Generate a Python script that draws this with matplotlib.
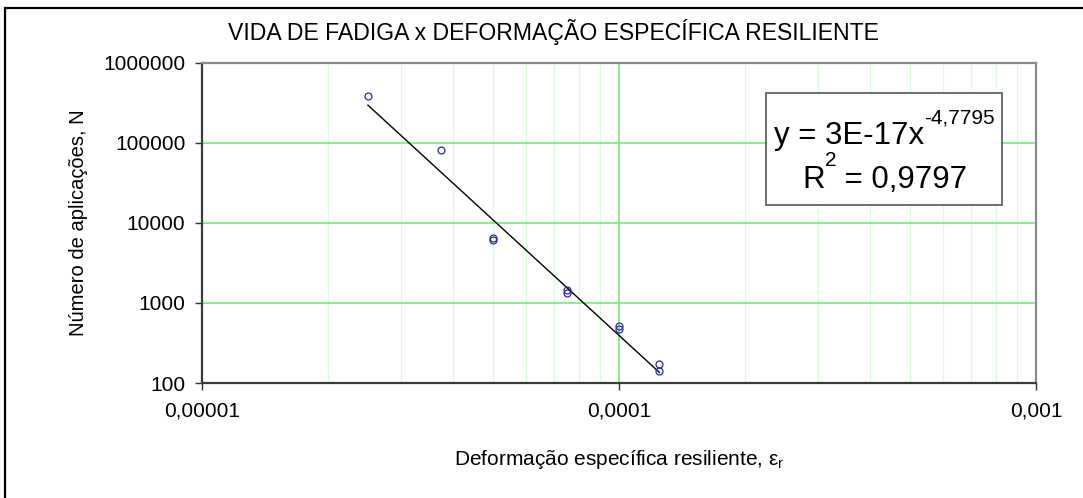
import matplotlib.pyplot as plt
from matplotlib.patches import Rectangle
from matplotlib.ticker import FixedLocator, FuncFormatter, NullLocator
import numpy as np

plt.rcParams["font.family"] = ["Liberation Sans", "DejaVu Sans"]

# ensaio de fadiga: deformação específica resiliente x número de aplicações
strain = [2.5e-5, 3.75e-5, 5e-5, 5e-5, 7.5e-5, 7.5e-5, 1e-4, 1e-4, 1.25e-4, 1.25e-4]
cycles = [385000, 81000, 6500, 6100, 1450, 1350, 520, 470, 175, 140]

# linha de tendência potencial (Excel)
coef_a = 3e-17
coef_b = -4.7795
r2 = 0.9797

x_ticks = [1e-5, 1e-4, 1e-3]
x_labels = ["0,00001", "0,0001", "0,001"]
y_ticks = [100, 1000, 10000, 100000, 1000000]
y_labels = ["100", "1000", "10000", "100000", "1000000"]

major_green = "#7be87b"
minor_green = "#dcfadc"

W, H = 1083, 498


def px(x, y):
    # pixel (a partir do topo) -> fração da figura
    return x / W, 1 - y / H


def put_after(fig, prev, text, y_base, size):
    # escreve text logo à direita do texto anterior, na linha de base dada
    fig.canvas.draw()
    x_end = prev.get_window_extent().x1
    return fig.text(x_end / W, 1 - y_base / H, text, ha="left", va="baseline",
                    fontsize=size, zorder=6)


def main() -> None:
    fig = plt.figure(figsize=(W / 100, H / 100), dpi=100)
    ax = fig.add_axes([202 / W, 115 / H, 834 / W, 320 / H])

    ax.set_xscale("log")
    ax.set_yscale("log")
    ax.set_xlim(1e-5, 1e-3)
    ax.set_ylim(100, 1e6)

    # grade: verticais menores e maiores, horizontais maiores
    minor_x = [m * 10.0 ** e for e in (-5, -4) for m in range(2, 10)]
    for xv in minor_x:
        ax.axvline(xv, color=minor_green, lw=1.0, zorder=0)
    for xv in x_ticks:
        ax.axvline(xv, color=major_green, lw=1.2, zorder=0)
    for yv in y_ticks:
        ax.axhline(yv, color=major_green, lw=1.2, zorder=0)

    xs = np.geomspace(min(strain), max(strain), 200)
    ax.plot(xs, coef_a * xs ** coef_b, color="black", lw=1.0, zorder=2)

    ax.plot(strain, cycles, linestyle="none", marker="o", markersize=5,
            markerfacecolor="none", markeredgecolor="#2a2aa8",
            markeredgewidth=0.9, zorder=3)

    ax.xaxis.set_major_locator(FixedLocator(x_ticks))
    ax.xaxis.set_major_formatter(FuncFormatter(lambda v, p: x_labels[p] if p is not None and p < len(x_labels) else ""))
    ax.xaxis.set_minor_locator(NullLocator())
    ax.yaxis.set_major_locator(FixedLocator(y_ticks))
    ax.yaxis.set_major_formatter(FuncFormatter(lambda v, p: y_labels[p] if p is not None and p < len(y_labels) else ""))
    ax.yaxis.set_minor_locator(NullLocator())

    ax.tick_params(axis="both", which="major", direction="out", length=5,
                   width=1.0, color="#333333", labelsize=15)
    ax.tick_params(axis="x", pad=8)
    ax.tick_params(axis="y", pad=7)

    for side in ("left", "bottom"):
        ax.spines[side].set_color("#3a3a3a")
        ax.spines[side].set_linewidth(1.6)
    for side in ("top", "right"):
        ax.spines[side].set_color("#8a8a8a")
        ax.spines[side].set_linewidth(1.6)

    ax.set_xlabel(r"Deformação específica resiliente, $\mathregular{\varepsilon_r}$",
                  fontsize=15, labelpad=20)
    ax.set_ylabel("Número de aplicações, N", fontsize=14.5, labelpad=11)

    fig.text(*px(553, 32), "VIDA DE FADIGA x DEFORMAÇÃO ESPECÍFICA RESILIENTE",
             ha="center", va="center", fontsize=16.6)

    # caixa com a equação da linha de tendência
    fig.patches.append(Rectangle(px(766, 205), 236 / W, 112 / H,
                                 transform=fig.transFigure, facecolor="white",
                                 edgecolor="#555555", linewidth=1.2, zorder=5))
    t1 = fig.text(*px(774, 144), "y = %.0Ex" % coef_a, ha="left",
                  va="baseline", fontsize=22.5, zorder=6)
    put_after(fig, t1, ("%.4f" % coef_b).replace(".", ","), 123, 15)
    t2 = fig.text(*px(802, 188), "R", ha="left", va="baseline",
                  fontsize=22.5, zorder=6)
    t3 = put_after(fig, t2, "2", 166, 15)
    put_after(fig, t3, " = %s" % str(r2).replace(".", ","), 188, 22.5)

    # moldura externa do gráfico
    fig.patches.append(Rectangle((5 / W, -0.1), 1.2, 1 - 8 / H + 0.1,
                                 transform=fig.transFigure, fill=False,
                                 edgecolor="black", linewidth=1.6))

    fig.savefig("out.png", dpi=100)


main()
